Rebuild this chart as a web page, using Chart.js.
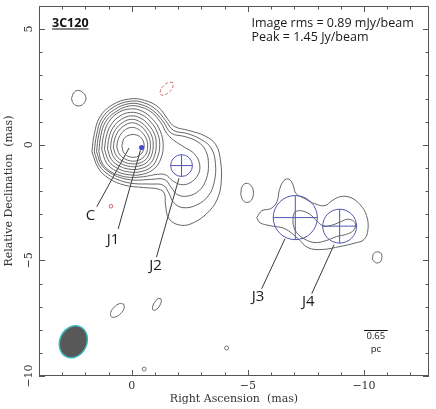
<!DOCTYPE html>
<html><head><meta charset="utf-8">
<script src="https://cdn.jsdelivr.net/npm/chart.js@4.4.1/dist/chart.umd.min.js"></script>
<style>html,body{margin:0;padding:0;background:#fff}canvas{display:block}</style>
</head><body>
<canvas id="c" width="436" height="409"></canvas>
<script>
// ---- axes ----
const xRange = [-12.8, 4];          // Right Ascension (mas), reversed
const yRange = [-10, 6];            // Relative Declination (mas)
const xTickValues = [0, -5, -10];
const xTickLabels = ['0', '\u22125', '\u221210'];
const yTickValues = [5, 0, -5, -10];
const yTickLabels = ['5', '0', '\u22125', '\u221210'];

// ---- contours [RA, Dec] in mas ----
const contourL1 = [[1.72,-0.3],[1.62,0.45],[1.38,1.2],[0.85,1.72],[0.1,1.98],[-0.55,1.92],[-1.15,1.62],[-1.55,1.1],[-1.85,0.78],[-2.45,0.62],[-3.15,0.38],[-3.62,0.0],[-3.82,-0.7],[-3.85,-1.6],[-3.7,-2.3],[-3.35,-2.85],[-2.7,-3.35],[-2.1,-3.48],[-1.6,-3.2],[-1.45,-2.6],[-1.4,-2.1],[-1.15,-1.92],[-0.5,-1.85],[0.3,-1.75],[1.0,-1.45],[1.45,-1.0]];
const contourL2 = [[1.62,-0.3],[1.52,0.42],[1.3,1.12],[0.8,1.62],[0.1,1.88],[-0.5,1.82],[-1.05,1.52],[-1.45,1.05],[-1.8,0.62],[-2.4,0.48],[-3.0,0.22],[-3.42,-0.15],[-3.6,-0.8],[-3.55,-1.6],[-3.3,-2.2],[-2.8,-2.6],[-2.2,-2.72],[-1.8,-2.5],[-1.6,-2.1],[-1.35,-1.75],[-0.8,-1.7],[-0.1,-1.68],[0.5,-1.55],[1.0,-1.3],[1.4,-0.9]];
const contourL3 = [[1.52,-0.3],[1.43,0.4],[1.22,1.05],[0.75,1.52],[0.1,1.78],[-0.45,1.72],[-0.95,1.45],[-1.35,1.0],[-1.7,0.5],[-2.3,0.35],[-2.85,0.12],[-3.18,-0.25],[-3.3,-0.85],[-3.2,-1.5],[-2.9,-1.98],[-2.4,-2.22],[-1.95,-2.15],[-1.7,-1.85],[-1.4,-1.5],[-0.8,-1.5],[-0.1,-1.53],[0.5,-1.42],[0.95,-1.2],[1.32,-0.85]];
const contourL4 = [[1.42,-0.3],[1.34,0.38],[1.14,0.98],[0.7,1.42],[0.1,1.68],[-0.42,1.62],[-0.88,1.38],[-1.25,0.95],[-1.5,0.5],[-1.8,0.2],[-2.25,-0.1],[-2.7,-0.4],[-2.92,-0.85],[-2.85,-1.3],[-2.5,-1.65],[-2.1,-1.72],[-1.75,-1.55],[-1.45,-1.3],[-1.1,-1.28],[-0.5,-1.38],[0.1,-1.41],[0.6,-1.3],[1.0,-1.1],[1.3,-0.75]];
const contourL5 = [[1.3,-0.2],[1.22,0.4],[1.02,0.95],[0.6,1.38],[0.05,1.55],[-0.45,1.45],[-0.9,1.1],[-1.22,0.6],[-1.35,0.0],[-1.25,-0.6],[-0.95,-1.05],[-0.45,-1.28],[0.1,-1.3],[0.65,-1.15],[1.08,-0.8]];
const contourL6 = [[1.18,-0.2],[1.1,0.36],[0.9,0.86],[0.52,1.24],[0.05,1.4],[-0.42,1.3],[-0.82,0.98],[-1.1,0.52],[-1.2,0.0],[-1.1,-0.55],[-0.85,-0.95],[-0.4,-1.16],[0.1,-1.18],[0.6,-1.03],[0.98,-0.72]];
const contourL7 = [[1.05,-0.18],[0.98,0.32],[0.8,0.76],[0.45,1.1],[0.03,1.25],[-0.38,1.15],[-0.72,0.86],[-0.98,0.45],[-1.05,0.0],[-0.97,-0.5],[-0.75,-0.85],[-0.35,-1.04],[0.08,-1.06],[0.52,-0.93],[0.88,-0.64]];
const contourL8 = [[0.92,-0.15],[0.86,0.28],[0.7,0.66],[0.4,0.96],[0.02,1.1],[-0.34,1.0],[-0.63,0.75],[-0.86,0.38],[-0.92,-0.02],[-0.85,-0.45],[-0.65,-0.76],[-0.3,-0.92],[0.06,-0.94],[0.45,-0.82],[0.77,-0.56]];
const contourL9 = [[0.8,-0.12],[0.74,0.24],[0.6,0.56],[0.34,0.82],[0.01,0.95],[-0.3,0.86],[-0.55,0.64],[-0.74,0.32],[-0.8,-0.03],[-0.74,-0.4],[-0.56,-0.67],[-0.26,-0.81],[0.05,-0.82],[0.38,-0.72],[0.66,-0.48]];
const contourL10 = [[0.65,-0.1],[0.6,0.2],[0.47,0.46],[0.27,0.66],[0.0,0.75],[-0.26,0.68],[-0.47,0.5],[-0.63,0.24],[-0.68,-0.05],[-0.63,-0.35],[-0.47,-0.57],[-0.22,-0.69],[0.04,-0.7],[0.32,-0.6],[0.54,-0.4]];
const contourL11 = [[0.43,-0.05],[0.34,0.26],[0.1,0.42],[-0.2,0.42],[-0.43,0.26],[-0.53,-0.05],[-0.43,-0.36],[-0.2,-0.52],[0.1,-0.52],[0.34,-0.36]];
const contourJ34outer = [[-5.38,-3.15],[-5.6,-2.85],[-5.99,-2.76],[-6.25,-2.46],[-6.36,-1.94],[-6.55,-1.55],[-6.77,-1.49],[-6.94,-1.73],[-7.07,-2.11],[-7.41,-2.31],[-7.93,-2.57],[-8.32,-2.63],[-8.62,-2.42],[-9.0,-2.24],[-9.44,-2.29],[-9.83,-2.59],[-10.11,-3.06],[-10.17,-3.67],[-10.0,-4.1],[-9.61,-4.25],[-8.97,-4.4],[-8.19,-4.53],[-7.59,-4.45],[-7.16,-4.06],[-6.59,-3.63],[-5.95,-3.5],[-5.52,-3.37]];
const contourJ34inner = [[-6.95,-3.08],[-7.03,-2.9],[-7.31,-2.86],[-7.67,-3.01],[-7.96,-3.29],[-8.25,-3.51],[-8.61,-3.48],[-8.97,-3.34],[-9.32,-3.22],[-9.61,-3.37],[-9.57,-3.68],[-9.25,-3.87],[-8.82,-3.97],[-8.32,-4.16],[-7.89,-4.23],[-7.46,-4.09],[-7.1,-3.8],[-6.95,-3.44]];
const islandNE = [[2.6,2.0],[2.5,2.25],[2.3,2.35],[2.05,2.2],[1.98,1.98],[2.08,1.77],[2.3,1.68],[2.52,1.78]];
const islandMid = [[-4.69,-2.15],[-4.75,-1.8],[-4.92,-1.67],[-5.12,-1.75],[-5.23,-2.0],[-5.18,-2.35],[-5.0,-2.49],[-4.8,-2.42]];
const islandW = [[-10.36,-4.95],[-10.42,-4.7],[-10.6,-4.63],[-10.75,-4.72],[-10.76,-4.95],[-10.68,-5.08],[-10.5,-5.1]];
const islandS1 = [[0.35,-6.89],[0.53,-6.87],[0.76,-7.02],[0.91,-7.25],[0.89,-7.43],[0.71,-7.45],[0.48,-7.30],[0.33,-7.07]];
const islandS2 = [[-1.24,-6.65],[-1.11,-6.67],[-0.97,-6.83],[-0.89,-7.03],[-0.92,-7.15],[-1.05,-7.13],[-1.19,-6.97],[-1.27,-6.77]];
const negContour = [[-1.76,2.69],[-1.59,2.70],[-1.37,2.56],[-1.23,2.34],[-1.24,2.17],[-1.41,2.16],[-1.63,2.30],[-1.77,2.52]];
const tinyIslands = [[-0.53,-9.7],[-4.08,-8.79]];
const tinyNeg = [[0.9,-2.66]];

// ---- model components: name, RA, Dec, radius (mas) ----
const compNames = ['J1', 'J2', 'J3', 'J4'];
const compRA = [-0.42, -2.14, -7.04, -8.95];
const compDec = [-0.12, -0.9, -3.15, -3.52];
const compRadius = [0.11, 0.47, 0.95, 0.73];

// ---- labels & pointers ----
const labelNames = ['C', 'J1', 'J2', 'J3', 'J4'];
const labelRA = [1.78, 0.81, -1.02, -5.44, -7.6];
const labelDec = [-3.06, -4.11, -5.22, -6.59, -6.81];
const pointerLines = [
  [[1.51,-2.68],[0.12,-0.14]],
  [[0.59,-3.64],[-0.37,-0.24]],
  [[-1.06,-4.86],[-2.03,-1.45]],
  [[-5.59,-6.23],[-6.6,-4.06]],
  [[-7.75,-6.44],[-8.71,-4.32]]
];

// ---- beam & scale bar ----
const beamCenter = [2.52, -8.52];
const beamMajor = 1.42, beamMinor = 1.16, beamPA = -25;
const scaleBarRA = [-10.0, -11.02], scaleBarDec = -8.0;
const scaleBarText = ['0.65', 'pc'];

const closeLoop = pts => pts.concat([pts[0]]).map(p => ({x: p[0], y: p[1]}));
const contourList = [contourL1,contourL2,contourL3,contourL4,contourL5,contourL6,contourL7,contourL8,contourL9,contourL10,contourL11,contourJ34outer,contourJ34inner,islandNE,islandMid,islandW,islandS1,islandS2];

const datasets = [];
contourList.forEach(c => datasets.push({data: closeLoop(c), showLine: true, borderColor: '#555', borderWidth: 0.9, pointRadius: 0, tension: 0.4, fill: false}));
datasets.push({data: closeLoop(negContour), showLine: true, borderColor: '#c55', borderWidth: 0.9, borderDash: [3,2], pointRadius: 0, tension: 0.4, fill: false});
datasets.push({data: tinyIslands.map(p => ({x:p[0], y:p[1]})), showLine: false, pointRadius: 2, pointBorderColor: '#666', pointBackgroundColor: 'rgba(0,0,0,0)', pointBorderWidth: 0.9});
datasets.push({data: tinyNeg.map(p => ({x:p[0], y:p[1]})), showLine: false, pointRadius: 1.8, pointBorderColor: '#c55', pointBackgroundColor: 'rgba(0,0,0,0)', pointBorderWidth: 0.9});
pointerLines.forEach(l => datasets.push({data: l.map(p => ({x:p[0], y:p[1]})), showLine: true, borderColor: '#222', borderWidth: 0.9, pointRadius: 0, tension: 0}));

const overlay = {
  id: 'overlay',
  afterDatasetsDraw(chart) {
    const {ctx, chartArea: a, scales: {x, y}} = chart;
    const pxPerMas = Math.abs(x.getPixelForValue(0) - x.getPixelForValue(1));
    const pyPerMas = Math.abs(y.getPixelForValue(0) - y.getPixelForValue(1));
    ctx.save();
    // components
    compNames.forEach((n, i) => {
      const cx = x.getPixelForValue(compRA[i]), cy = y.getPixelForValue(compDec[i]);
      const r = compRadius[i] * pxPerMas;
      ctx.strokeStyle = '#5555b0'; ctx.lineWidth = 1;
      if (i === 0) {
        ctx.fillStyle = '#4a4ad0';
        ctx.beginPath(); ctx.arc(cx, cy, r, 0, 2*Math.PI); ctx.fill();
      } else {
        ctx.beginPath(); ctx.arc(cx, cy, r, 0, 2*Math.PI); ctx.stroke();
        ctx.beginPath(); ctx.moveTo(cx - r, cy); ctx.lineTo(cx + r, cy);
        ctx.moveTo(cx, cy - r); ctx.lineTo(cx, cy + r); ctx.stroke();
      }
    });
    // beam
    const bx = x.getPixelForValue(beamCenter[0]), by = y.getPixelForValue(beamCenter[1]);
    ctx.beginPath();
    ctx.ellipse(bx, by, beamMinor/2*pxPerMas, beamMajor/2*pyPerMas, -beamPA*Math.PI/180, 0, 2*Math.PI);
    ctx.fillStyle = '#585858'; ctx.fill();
    ctx.strokeStyle = '#3bb5b5'; ctx.lineWidth = 1.5; ctx.stroke();
    // scale bar
    const s1 = x.getPixelForValue(scaleBarRA[0]), s2 = x.getPixelForValue(scaleBarRA[1]);
    const sy = Math.round(y.getPixelForValue(scaleBarDec)) + 0.5;
    ctx.strokeStyle = '#111'; ctx.lineWidth = 1;
    ctx.beginPath(); ctx.moveTo(s1, sy); ctx.lineTo(s2, sy); ctx.stroke();
    ctx.fillStyle = '#222'; ctx.font = '9.5px "Open Sans"'; ctx.textAlign = 'center'; ctx.textBaseline = 'middle';
    ctx.fillText(scaleBarText[0], (s1+s2)/2, sy + 6);
    ctx.fillText(scaleBarText[1], (s1+s2)/2, sy + 18.5);
    // component labels
    ctx.font = '15px "Open Sans"'; ctx.fillStyle = '#1a1a1a';
    labelNames.forEach((n, i) => ctx.fillText(n, x.getPixelForValue(labelRA[i]), y.getPixelForValue(labelDec[i])));
    // frame & ticks
    ctx.strokeStyle = '#555'; ctx.lineWidth = 1;
    ctx.strokeRect(Math.round(a.left)+0.5, Math.round(a.top)+0.5, Math.round(a.right-a.left)-1, Math.round(a.bottom-a.top)-1);
    ctx.beginPath();
    for (let v = Math.ceil(xRange[0]); v <= xRange[1]; v++) {
      const p = Math.round(x.getPixelForValue(v)) + 0.5, L = v % 5 === 0 ? 6 : 3.5;
      ctx.moveTo(p, a.bottom); ctx.lineTo(p, a.bottom - L);
      ctx.moveTo(p, a.top); ctx.lineTo(p, a.top + L);
    }
    for (let v = Math.ceil(yRange[0]); v <= yRange[1]; v++) {
      const p = Math.round(y.getPixelForValue(v)) + 0.5, L = v % 5 === 0 ? 6 : 3.5;
      ctx.moveTo(a.left, p); ctx.lineTo(a.left + L, p);
      ctx.moveTo(a.right, p); ctx.lineTo(a.right - L, p);
    }
    ctx.stroke();
    // y tick labels (rotated)
    ctx.font = '11px "DejaVu Serif"'; ctx.fillStyle = '#333';
    yTickValues.forEach((v, i) => {
      ctx.save(); ctx.translate(a.left - 10, y.getPixelForValue(v)); ctx.rotate(-Math.PI/2);
      ctx.textAlign = 'center'; ctx.textBaseline = 'middle'; ctx.fillText(yTickLabels[i], 0, 0); ctx.restore();
    });
    // annotations
    ctx.textAlign = 'left'; ctx.textBaseline = 'alphabetic';
    ctx.font = 'bold 12.5px "Open Sans"'; ctx.fillStyle = '#111';
    const t = '3C120', tx = a.left + 13, ty = a.top + 21;
    ctx.fillText(t, tx, ty);
    const tw = ctx.measureText(t).width;
    ctx.fillRect(tx, ty + 1.5, tw, 1);
    ctx.font = '12.5px "Open Sans"'; ctx.fillStyle = '#1a1a1a';
    ctx.fillText('Image rms = 0.89 mJy/beam', 251.5, 27);
    ctx.fillText('Peak = 1.45 Jy/beam', 251.5, 40.5);
    ctx.restore();
  }
};

new Chart(document.getElementById('c'), {
  type: 'scatter',
  data: {datasets},
  plugins: [overlay],
  options: {
    responsive: false, animation: false, devicePixelRatio: 1,
    layout: {padding: {top: 6, right: 7, left: 0, bottom: 0}},
    plugins: {legend: {display: false}, tooltip: {enabled: false}},
    scales: {
      x: {
        type: 'linear', reverse: true, min: xRange[0], max: xRange[1],
        grid: {display: false, drawTicks: false}, border: {display: false},
        afterBuildTicks: s => { s.ticks = xTickValues.map(v => ({value: v})); },
        afterFit: s => { s.height = 33; },
        ticks: {padding: 4, font: {family: 'DejaVu Serif', size: 11}, color: '#333', maxRotation: 0,
          callback: v => xTickLabels[xTickValues.indexOf(v)]},
        title: {display: true, text: 'Right Ascension  (mas)', font: {family: 'DejaVu Serif', size: 11}, color: '#333', padding: {top: 0, bottom: 3}}
      },
      y: {
        type: 'linear', min: yRange[0], max: yRange[1],
        grid: {display: false, drawTicks: false}, border: {display: false},
        ticks: {display: false},
        afterFit: s => { s.width = 39; },
        title: {display: true, text: 'Relative Declination  (mas)', font: {family: 'DejaVu Serif', size: 11}, color: '#333', padding: {top: 3, bottom: 0}}
      }
    }
  }
});
</script>
</body></html>
